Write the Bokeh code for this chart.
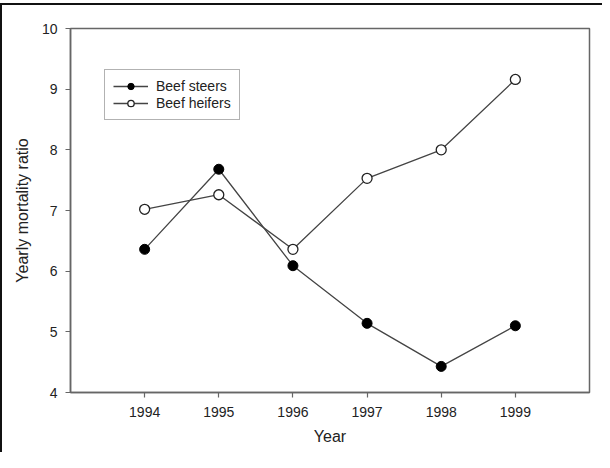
from bokeh.plotting import figure
from bokeh.models import FixedTicker, Range1d, Legend, LegendItem
from bokeh.embed import file_html
from bokeh.resources import INLINE

years = [1994, 1995, 1996, 1997, 1998, 1999]
steers = [6.36, 7.68, 6.09, 5.14, 4.43, 5.10]
heifers = [7.02, 7.26, 6.36, 7.53, 8.00, 9.16]
x_ticks = [1994, 1995, 1996, 1997, 1998, 1999]
y_ticks = [4, 5, 6, 7, 8, 9, 10]

FONT = "Liberation Sans"
LINE = "#444444"
AXC = "#666666"
TXT = "#222222"

p = figure(width=602, height=449, output_backend="svg", toolbar_location=None,
           x_range=Range1d(1993, 2000), y_range=Range1d(4, 10),
           min_border_left=68, min_border_top=23, min_border_right=15, min_border_bottom=62)
p.margin = (3, 0, 0, 0)
p.styles = {"border-left": "2px solid #111111", "border-top": "2px solid #111111"}

p.xgrid.visible = False
p.ygrid.visible = False
p.outline_line_color = AXC
p.outline_line_width = 1.5

for ax in (p.xaxis[0], p.yaxis[0]):
    ax.axis_line_color = AXC
    ax.axis_line_width = 1.5
    ax.major_tick_line_color = AXC
    ax.major_tick_line_width = 1.2
    ax.major_tick_in = 0
    ax.major_tick_out = 5
    ax.minor_tick_line_color = None
    ax.major_label_text_font = FONT
    ax.major_label_text_font_size = "14px"
    ax.major_label_text_color = TXT
    ax.axis_label_text_font = FONT
    ax.axis_label_text_font_size = "16px"
    ax.axis_label_text_font_style = "normal"
    ax.axis_label_text_color = TXT

p.xaxis.ticker = FixedTicker(ticks=x_ticks)
p.yaxis.ticker = FixedTicker(ticks=y_ticks)
p.xaxis.axis_label = "Year"
p.yaxis.axis_label = "Yearly mortality ratio"
p.xaxis.major_label_standoff = 9
p.xaxis.axis_label_standoff = 8
p.yaxis.major_label_standoff = 8
p.yaxis.axis_label_standoff = 8

l1 = p.line(years, steers, line_color=LINE, line_width=1.3)
s1 = p.scatter(years, steers, size=10, fill_color="black", line_color="black")
l2 = p.line(years, heifers, line_color=LINE, line_width=1.3)
s2 = p.scatter(years, heifers, size=10, fill_color="white", line_color="#222222", line_width=1.3)

legend = Legend(items=[LegendItem(label="Beef steers", renderers=[l1, s1]),
                       LegendItem(label="Beef heifers", renderers=[l2, s2])],
                location=(34, 272))
legend.border_line_color = AXC
legend.border_line_width = 1.3
legend.background_fill_color = "white"
legend.background_fill_alpha = 1
legend.label_text_font = FONT
legend.label_text_font_size = "14px"
legend.label_text_color = TXT
legend.glyph_width = 35
legend.glyph_height = 16
legend.label_height = 16
legend.label_standoff = 8
legend.spacing = 1
legend.padding = 8
legend.margin = 0
p.add_layout(legend)

open("out.html", "w").write(file_html(p, INLINE))
